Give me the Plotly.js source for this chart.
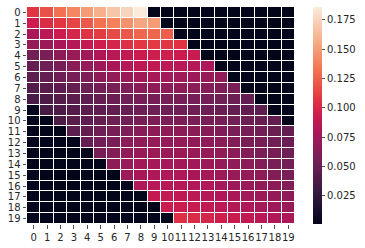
<!DOCTYPE html>
<html><head><meta charset="utf-8">
<script src="https://cdn.plot.ly/plotly-3.0.1.min.js"></script>
<style>html,body{margin:0;padding:0;background:#fff;}#chart{width:365px;height:248px;}</style>
</head><body><div id="chart"></div>
<script>
const xLabels = ["0","1","2","3","4","5","6","7","8","9","10","11","12","13","14","15","16","17","18","19"];
const yLabels = ["0","1","2","3","4","5","6","7","8","9","10","11","12","13","14","15","16","17","18","19"];
const o = 0.001;
const row0  = [0.107,0.118,0.131,0.140,0.149,0.158,0.168,0.175,0.186,o,o,o,o,o,o,o,o,o,o,o];
const row1  = [0.094,0.103,0.108,0.114,0.121,0.131,0.138,0.145,0.153,0.149,o,o,o,o,o,o,o,o,o,o];
const row2  = [0.079,0.086,0.094,0.099,0.106,0.110,0.116,0.121,0.127,0.127,0.124,o,o,o,o,o,o,o,o,o];
const row3  = [0.070,0.073,0.079,0.084,0.090,0.095,0.099,0.105,0.108,0.109,0.108,0.106,o,o,o,o,o,o,o,o];
const row4  = [0.055,0.058,0.066,0.071,0.075,0.081,0.085,0.089,0.094,0.095,0.095,0.094,0.092,o,o,o,o,o,o,o];
const row5  = [0.049,0.053,0.057,0.065,0.070,0.074,0.079,0.084,0.088,0.089,0.086,0.085,0.084,0.080,o,o,o,o,o,o];
const row6  = [0.045,0.049,0.053,0.057,0.060,0.067,0.070,0.073,0.076,0.078,0.077,0.075,0.074,0.071,0.069,o,o,o,o,o];
const row7  = [0.040,0.043,0.046,0.049,0.052,0.055,0.058,0.061,0.065,0.067,0.067,0.066,0.065,0.063,0.061,0.058,o,o,o,o];
const row8  = [0.036,0.038,0.041,0.044,0.046,0.049,0.051,0.054,0.056,0.057,0.057,0.057,0.056,0.055,0.054,0.052,0.049,o,o,o];
const row9  = [o,0.036,0.038,0.041,0.044,0.046,0.048,0.050,0.052,0.053,0.053,0.053,0.053,0.052,0.051,0.049,0.047,0.045,o,o];
const row10 = [o,o,0.038,0.043,0.046,0.049,0.052,0.055,0.057,0.059,0.059,0.059,0.058,0.057,0.056,0.055,0.052,0.050,0.047,o];
const row11 = [o,o,o,0.045,0.049,0.053,0.057,0.060,0.064,0.066,0.067,0.066,0.065,0.063,0.061,0.058,0.057,0.054,0.051,0.049];
const row12 = [o,o,o,o,0.049,0.055,0.058,0.065,0.068,0.070,0.070,0.070,0.069,0.067,0.065,0.062,0.058,0.057,0.054,0.051];
const row13 = [o,o,o,o,o,0.057,0.062,0.068,0.071,0.073,0.073,0.073,0.071,0.070,0.068,0.066,0.062,0.058,0.057,0.053];
const row14 = [o,o,o,o,o,o,0.066,0.071,0.075,0.077,0.077,0.076,0.075,0.073,0.070,0.068,0.065,0.062,0.058,0.055];
const row15 = [o,o,o,o,o,o,o,0.074,0.079,0.081,0.081,0.081,0.079,0.077,0.074,0.071,0.069,0.066,0.062,0.058];
const row16 = [o,o,o,o,o,o,o,o,0.082,0.085,0.085,0.084,0.082,0.081,0.077,0.074,0.071,0.069,0.066,0.062];
const row17 = [o,o,o,o,o,o,o,o,o,0.090,0.090,0.088,0.086,0.084,0.081,0.079,0.076,0.073,0.069,0.067];
const row18 = [o,o,o,o,o,o,o,o,o,o,0.094,0.094,0.092,0.089,0.087,0.083,0.081,0.077,0.074,0.071];
const row19 = [o,o,o,o,o,o,o,o,o,o,o,0.105,0.103,0.099,0.095,0.093,0.089,0.086,0.082,0.080];
const z = [row0,row1,row2,row3,row4,row5,row6,row7,row8,row9,row10,row11,row12,row13,row14,row15,row16,row17,row18,row19];
const cbTicks = [0.025,0.050,0.075,0.100,0.125,0.150,0.175];

const rocket = [
  [0.0,'#03051a'],[0.142857,'#35193e'],[0.285714,'#701f57'],[0.428571,'#ad1759'],
  [0.5,'#cb1b4f'],[0.571429,'#e13342'],[0.714286,'#f37651'],[0.857143,'#f6b48f'],[1.0,'#faebdd']
];
const fnt = {family:'DejaVu Sans, sans-serif', size:10, color:'#262626'};
Plotly.newPlot('chart', [{
  type:'heatmap', x:xLabels, y:yLabels, z:z,
  colorscale:rocket, zmin:0.001, zmax:0.186,
  xgap:1, ygap:1, hoverongaps:false,
  colorbar:{x:1.066, xanchor:'left', y:0.5, yanchor:'middle', len:1, lenmode:'fraction',
    thickness:9, thicknessmode:'pixels', outlinewidth:0, tickvals:cbTicks, tickformat:'.3f',
    ticks:'outside', ticklen:3.5, tickwidth:0.8, tickcolor:'#262626', tickfont:fnt, xpad:0, ypad:0}
}], {
  width:365, height:248, margin:{l:27, r:70, t:7, b:24, pad:0},
  paper_bgcolor:'#fff', plot_bgcolor:'#fff', font:fnt,
  xaxis:{type:'category', tickmode:'array', tickvals:xLabels, ticktext:xLabels, ticks:'outside', ticklen:3.5, tickwidth:0.8, tickcolor:'#262626',
    showgrid:false, zeroline:false, showline:false, tickfont:fnt, tickangle:0, fixedrange:true},
  yaxis:{type:'category', tickmode:'array', tickvals:yLabels, ticktext:yLabels, autorange:'reversed', ticks:'outside', ticklen:3.5, tickwidth:0.8, tickcolor:'#262626',
    showgrid:false, zeroline:false, showline:false, tickfont:fnt, tickangle:0, fixedrange:true}
}, {displayModeBar:false, staticPlot:true});
</script></body></html>
